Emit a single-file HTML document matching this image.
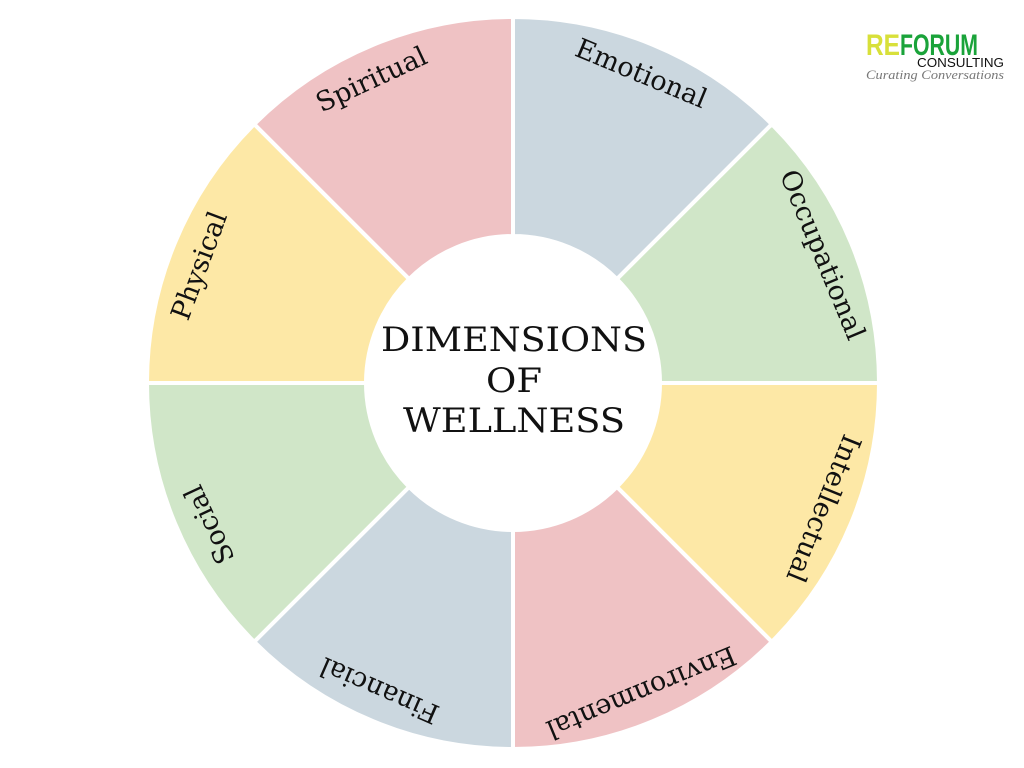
<!DOCTYPE html>
<html><head><meta charset="utf-8"><style>
html,body{margin:0;padding:0;background:#fff;width:1024px;height:768px;overflow:hidden}
</style></head><body>
<svg width="1024" height="768" viewBox="0 0 1024 768" xmlns="http://www.w3.org/2000/svg">
<g stroke="#fff" stroke-width="4">
<path d="M254.2,124.2 A366,366 0 0 1 513,17 L513,236 A147,147 0 0 0 409.1,279.1 Z" fill="#efc2c4"/>
<path d="M513,17 A366,366 0 0 1 771.8,124.2 L616.9,279.1 A147,147 0 0 0 513,236 Z" fill="#cbd7df"/>
<path d="M771.8,124.2 A366,366 0 0 1 879,383 L660,383 A147,147 0 0 0 616.9,279.1 Z" fill="#d0e6c8"/>
<path d="M879,383 A366,366 0 0 1 771.8,641.8 L616.9,486.9 A147,147 0 0 0 660,383 Z" fill="#fde8a6"/>
<path d="M771.8,641.8 A366,366 0 0 1 513,749 L513,530 A147,147 0 0 0 616.9,486.9 Z" fill="#efc2c4"/>
<path d="M513,749 A366,366 0 0 1 254.2,641.8 L409.1,486.9 A147,147 0 0 0 513,530 Z" fill="#cbd7df"/>
<path d="M254.2,641.8 A366,366 0 0 1 147,383 L366,383 A147,147 0 0 0 409.1,486.9 Z" fill="#d0e6c8"/>
<path d="M147,383 A366,366 0 0 1 254.2,124.2 L409.1,279.1 A147,147 0 0 0 366,383 Z" fill="#fde8a6"/>
</g>
<g font-family="'DejaVu Serif','Liberation Serif',serif" font-size="27" fill="#111" text-anchor="middle">
<text x="513" y="57" transform="rotate(-25 513 383)">Spiritual</text>
<text x="513" y="57" transform="rotate(22.5 513 383)">Emotional</text>
<text x="513" y="57" transform="rotate(67.5 513 383)">Occupational</text>
<text x="513" y="57" transform="rotate(112 513 383)">Intellectual</text>
<text x="513" y="57" transform="rotate(157.5 513 383)">Environmental</text>
<text x="513" y="57" transform="rotate(203.5 513 383)">Financial</text>
<text x="513" y="57" transform="rotate(245 513 383)">Social</text>
<text x="513" y="57" transform="rotate(290.5 513 383)">Physical</text>
</g>
<g font-family="'DejaVu Serif','Liberation Serif',serif" font-size="34" fill="#111" text-anchor="middle">
<text x="514" y="351" textLength="266" lengthAdjust="spacingAndGlyphs">DIMENSIONS</text>
<text x="514" y="392" textLength="56" lengthAdjust="spacingAndGlyphs">OF</text>
<text x="514" y="432" textLength="222" lengthAdjust="spacingAndGlyphs">WELLNESS</text>
</g>
<g font-family="'Liberation Sans',sans-serif">
<text x="866" y="55" font-size="30" fill="#d8e03a" font-weight="bold" textLength="34" lengthAdjust="spacingAndGlyphs">RE</text>
<text x="900" y="55" font-size="30" fill="#1aa33a" font-weight="bold" textLength="78" lengthAdjust="spacingAndGlyphs">FORUM</text>
<text x="917" y="67" font-size="13" fill="#111" textLength="87" lengthAdjust="spacingAndGlyphs">CONSULTING</text>
<text x="866" y="79" font-size="13" font-style="italic" fill="#777" font-family="'Liberation Serif',serif" textLength="138" lengthAdjust="spacingAndGlyphs">Curating Conversations</text>
</g>
</svg>
</body></html>
